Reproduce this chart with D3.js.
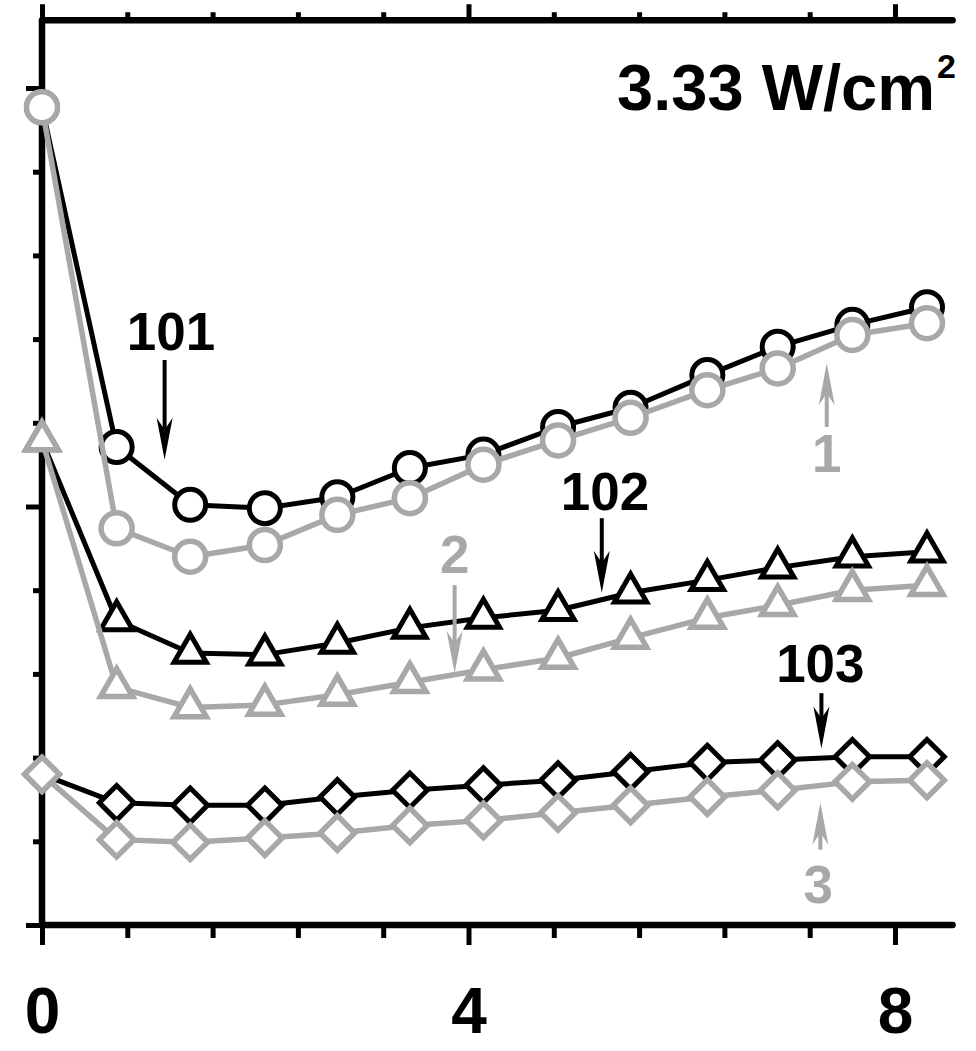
<!DOCTYPE html>
<html><head><meta charset="utf-8">
<script src="https://cdn.jsdelivr.net/npm/d3@7"></script>
<style>body{margin:0;background:#fff}</style>
</head><body><svg id="c" width="976" height="1051"></svg>
<script>
// ---- data ----
const timeValues = [0, 0.70, 1.39, 2.09, 2.77, 3.45, 4.14, 4.84, 5.52, 6.24, 6.90, 7.60, 8.30];
const series101 = [9.77, 5.71, 5.02, 4.98, 5.11, 5.46, 5.62, 5.95, 6.18, 6.57, 6.91, 7.17, 7.38];
const series1   = [9.77, 4.74, 4.40, 4.54, 4.90, 5.10, 5.50, 5.79, 6.06, 6.39, 6.65, 7.05, 7.19];
const series102 = [5.79, 3.64, 3.25, 3.23, 3.37, 3.55, 3.67, 3.76, 3.97, 4.12, 4.27, 4.40, 4.46];
const series2   = [5.79, 2.84, 2.60, 2.63, 2.75, 2.90, 3.05, 3.19, 3.43, 3.67, 3.82, 4.00, 4.06];
const series103 = [1.80, 1.46, 1.43, 1.43, 1.53, 1.61, 1.67, 1.73, 1.83, 1.94, 1.97, 2.01, 2.01];
const series3   = [1.80, 1.02, 0.99, 1.04, 1.10, 1.19, 1.25, 1.34, 1.43, 1.53, 1.61, 1.71, 1.73];
const xMajorTicks = [0, 4, 8];
const xMinorTicks = [0.8, 1.6, 2.4, 3.2, 4.8, 5.6, 6.4, 7.2];
const yMajorTicks = [0, 5, 10];
const yMinorTicks = [1, 2, 3, 4, 6, 7, 8, 9];
const xTickLabels = ["0", "4", "8"];
const titleText = "3.33 W/cm";
const titleSup = "2";
// annotations: label, label x, label baseline y, arrow x, arrow tail y, arrow tip y, colour key
const annLabels = ["101", "102", "103", "1", "2", "3"];
const annLabelX = [1.21, 5.28, 7.30, 7.36, 3.87, 7.28];
const annLabelY = [6.87, 4.96, 2.90, 5.41, 4.21, 0.26];
const annArrowX = [1.15, 5.25, 7.31, 7.36, 3.87, 7.30];
const annTailY  = [6.75, 4.86, 2.77, 5.95, 4.06, 0.90];
const annTipY   = [5.56, 3.97, 2.11, 6.71, 3.01, 1.46];
const annGrey   = [false, false, false, true, true, true];

const BLACK = "#000", GREY = "#a8a8a8";
const svg = d3.select("#c");
const x = d3.scaleLinear().domain([0, 8]).range([42, 895]);
const y = d3.scaleLinear().domain([0, 10]).range([925, 88]);
const xEnd = 8.54, yTop = 10.81;

// ---- axes ----
function xAxisG(gen, ty){ const g = svg.append("g").attr("transform", `translate(0,${ty})`).call(gen);
  g.select(".domain").remove(); g.selectAll("line").attr("stroke", BLACK).attr("stroke-width", 5); return g; }
xAxisG(d3.axisBottom(x).tickValues(xMinorTicks).tickSize(13).tickFormat(""), y(0));
xAxisG(d3.axisBottom(x).tickValues(xMajorTicks).tickSize(20).tickFormat(""), y(0));
xAxisG(d3.axisTop(x).tickValues(xMinorTicks).tickSize(8).tickFormat(""), y(yTop));
xAxisG(d3.axisTop(x).tickValues(xMajorTicks).tickSize(16).tickFormat(""), y(yTop));
function yAxisG(gen){ const g = svg.append("g").attr("transform", `translate(${x(0)},0)`).call(gen);
  g.select(".domain").remove(); g.selectAll("line").attr("stroke", BLACK).attr("stroke-width", 5); return g; }
yAxisG(d3.axisLeft(y).tickValues(yMinorTicks).tickSize(9).tickFormat(""));
yAxisG(d3.axisLeft(y).tickValues(yMajorTicks).tickSize(16).tickFormat(""));

// tick labels
const lab = svg.append("g").attr("transform", `translate(0,${y(0)})`)
  .call(d3.axisBottom(x).tickValues(xMajorTicks).tickSize(0).tickPadding(63).tickFormat((d,i)=>xTickLabels[i]));
lab.select(".domain").remove();
lab.selectAll("text").attr("font-family", "'Liberation Sans', Arial, sans-serif")
  .attr("font-weight", "bold").attr("font-size", 64).attr("fill", BLACK);

// axis lines
svg.append("line").attr("x1", x(0)).attr("x2", x(xEnd)).attr("y1", y(0)).attr("y2", y(0))
  .attr("stroke", BLACK).attr("stroke-width", 6.5).attr("stroke-linecap", "round");
svg.append("line").attr("x1", x(0)).attr("x2", x(xEnd)).attr("y1", y(yTop)).attr("y2", y(yTop))
  .attr("stroke", BLACK).attr("stroke-width", 6.5).attr("stroke-linecap", "round");
svg.append("line").attr("x1", x(0)).attr("x2", x(0)).attr("y1", y(0)).attr("y2", y(yTop))
  .attr("stroke", BLACK).attr("stroke-width", 6.5);

// ---- series ----
const line = d3.line().x((d,i)=>x(timeValues[i])).y(d=>y(d));
const triSym = d3.symbol().type(d3.symbolTriangle).size(450);
const sqSym = d3.symbol().type(d3.symbolSquare).size(600);
function drawSeries(vals, color, width, shape){
  svg.append("path").datum(vals).attr("d", line).attr("fill", "none")
    .attr("stroke", color).attr("stroke-width", width).attr("stroke-linejoin", "round");
  const g = svg.append("g");
  vals.forEach((v,i)=>{
    const cx = x(timeValues[i]), cy = y(v);
    let m;
    if (shape === "circle") m = g.append("circle").attr("cx", cx).attr("cy", cy).attr("r", 15.5);
    else if (shape === "triangle") m = g.append("path").attr("d", triSym()).attr("transform", `translate(${cx},${cy})`);
    else m = g.append("path").attr("d", sqSym()).attr("transform", `translate(${cx},${cy}) rotate(45)`);
    m.attr("fill", "#fff").attr("stroke", color).attr("stroke-width", width).attr("stroke-linejoin", "miter");
  });
}
drawSeries(series101, BLACK, 5, "circle");
drawSeries(series1, GREY, 5.5, "circle");
drawSeries(series102, BLACK, 5, "triangle");
drawSeries(series2, GREY, 5.5, "triangle");
drawSeries(series103, BLACK, 5, "diamond");
drawSeries(series3, GREY, 5.5, "diamond");

// ---- annotations ----
const FONT = "'Liberation Sans', Arial, sans-serif";
annLabels.forEach((t,i)=>{
  const col = annGrey[i] ? GREY : BLACK;
  svg.append("text").attr("x", x(annLabelX[i])).attr("y", y(annLabelY[i])).attr("text-anchor", "middle")
    .attr("font-family", FONT).attr("font-weight", "bold").attr("font-size", 53).attr("fill", col).text(t);
  const ax = x(annArrowX[i]), yt = y(annTailY[i]), yp = y(annTipY[i]);
  const dir = yp > yt ? 1 : -1;
  const headLen = 42, half = 8, notch = 30;
  svg.append("line").attr("x1", ax).attr("x2", ax).attr("y1", yt).attr("y2", yp - dir*notch)
    .attr("stroke", col).attr("stroke-width", 4);
  svg.append("path").attr("d", `M${ax},${yp} L${ax-half},${yp-dir*headLen} L${ax},${yp-dir*notch} L${ax+half},${yp-dir*headLen} Z`)
    .attr("fill", col);
});

// title
svg.append("text").attr("x", 935).attr("y", 110).attr("text-anchor", "end")
  .attr("font-family", FONT).attr("font-weight", "bold").attr("font-size", 65).attr("fill", BLACK).text(titleText);
svg.append("text").attr("x", 937).attr("y", 78)
  .attr("font-family", FONT).attr("font-weight", "bold").attr("font-size", 34).attr("fill", BLACK).text(titleSup);
</script></body></html>
